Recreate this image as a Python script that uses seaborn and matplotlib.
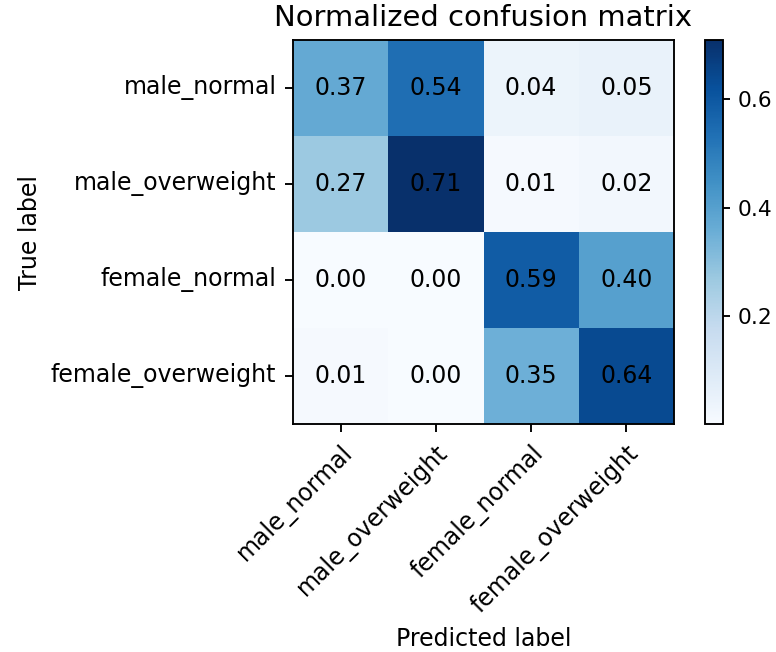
import numpy as np
import pandas as pd
import matplotlib
matplotlib.use("Agg")
import matplotlib.pyplot as plt
import seaborn as sns

classes = ["male_normal", "male_overweight", "female_normal", "female_overweight"]
row_male_normal = [0.37, 0.54, 0.04, 0.05]
row_male_overweight = [0.27, 0.71, 0.01, 0.02]
row_female_normal = [0.00, 0.00, 0.59, 0.40]
row_female_overweight = [0.01, 0.00, 0.35, 0.64]
cbar_ticks = [0.2, 0.4, 0.6]

cm = pd.DataFrame([row_male_normal, row_male_overweight, row_female_normal, row_female_overweight],
                  index=classes, columns=classes)

plt.rcParams['font.family'] = ['DejaVu Sans']

DPI = 170
W, H = 776, 652
fig = plt.figure(figsize=(W / DPI, H / DPI), dpi=DPI)
ax = fig.add_axes([293 / W, (H - 424) / H, 381 / W, 384 / H])
cax = fig.add_axes([705 / W, (H - 424) / H, 18 / W, 384 / H])

sns.heatmap(cm, ax=ax, cbar_ax=cax, cmap="Blues", annot=True, fmt=".2f",
            annot_kws={"color": "black", "fontsize": 10}, linewidths=0,
            cbar_kws={"ticks": cbar_ticks})

for s in ax.spines.values():
    s.set_visible(True)
    s.set_color("black")
    s.set_linewidth(0.8)

cb = ax.collections[0].colorbar
cb.outline.set_visible(True)
cb.outline.set_linewidth(0.8)
cb.outline.set_edgecolor("black")
cb.ax.tick_params(labelsize=9.2, length=3.0, width=0.8, pad=3.0, left=False, right=True)
cb.ax.set_yticklabels([f"{t:.1f}" for t in cbar_ticks])

ax.tick_params(axis="both", which="both", length=3.5, width=0.8, pad=3.5, labelsize=10,
               bottom=True, left=True, colors="black")
ax.set_xticklabels(classes, rotation=45, ha="right", rotation_mode="anchor")
ax.set_yticklabels(classes, rotation=0)
ax.set_title("Normalized confusion matrix", fontsize=12.3, pad=6, color="black")
ax.set_ylabel("True label", fontsize=10, color="black")
ax.set_xlabel("Predicted label", fontsize=10, color="black")

fig.savefig("out.png", dpi=DPI)
